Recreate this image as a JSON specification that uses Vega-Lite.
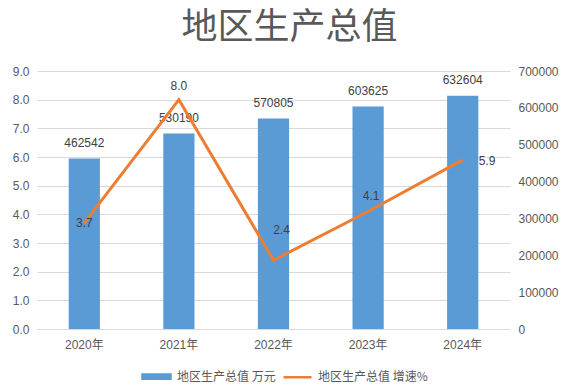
{
  "$schema": "https://vega.github.io/schema/vega-lite/v6.json",
  "width": 473,
  "height": 258,
  "autosize": "none",
  "padding": {"left": 37, "top": 71, "right": 57, "bottom": 59},
  "background": "white",
  "config": {
    "view": {"stroke": null},
    "font": "Liberation Sans, Noto Sans CJK SC",
    "text": {"font": "Liberation Sans, Noto Sans CJK SC", "fontSize": 12, "color": "#404040"}
  },
  "title": {
    "text": "地区生产总值",
    "font": "Noto Sans CJK SC",
    "fontSize": 36,
    "fontWeight": "normal",
    "color": "#595959",
    "offset": 18,
    "dx": 16
  },
  "data": {
    "values": [
      {"year": "2020年", "gdp": 462542, "rate": 3.7},
      {"year": "2021年", "gdp": 530190, "rate": 8.0},
      {"year": "2022年", "gdp": 570805, "rate": 2.4},
      {"year": "2023年", "gdp": 603625, "rate": 4.1},
      {"year": "2024年", "gdp": 632604, "rate": 5.9}
    ]
  },
  "encoding": {
    "x": {
      "field": "year",
      "type": "nominal",
      "sort": null,
      "scale": {"paddingInner": 0.67, "paddingOuter": 0.335},
      "axis": {
        "title": null,
        "labelAngle": 0,
        "ticks": false,
        "domain": false,
        "labelFontSize": 12,
        "labelColor": "#595959",
        "labelPadding": 10,
        "labelFont": "Liberation Sans, Noto Sans CJK SC"
      }
    }
  },
  "layer": [
    {
      "encoding": {
        "y": {
          "field": "gdp",
          "type": "quantitative",
          "scale": {"domain": [0, 700000], "nice": false},
          "axis": {
            "orient": "right",
            "title": null,
            "grid": false,
            "domain": false,
            "ticks": false,
            "values": [0, 100000, 200000, 300000, 400000, 500000, 600000, 700000],
            "format": "d",
            "labelFontSize": 12,
            "labelColor": "#595959",
            "labelPadding": 8
          }
        }
      },
      "layer": [
        {
          "mark": {"type": "bar", "color": "#5B9BD5"},
          "encoding": {
            "color": {
              "datum": "地区生产总值 万元",
              "scale": {"domain": ["地区生产总值 万元", "地区生产总值 增速%"], "range": ["#5B9BD5", "#ED7D31"]},
              "legend": {
                "title": null,
                "orient": "none",
                "direction": "horizontal",
                "legendX": 104,
                "legendY": 290,
                "symbolSize": 784,
                "labelFontSize": 12,
                "labelColor": "#595959",
                "labelFont": "Noto Sans CJK SC",
                "columnPadding": 2,
                "labelOffset": 5,
                "encode": {
                  "symbols": {
                    "update": {
                      "shape": {"signal": "datum.value === '地区生产总值 万元' ? 'M-1,-0.16H1V0.16H-1Z' : 'M-1,0H1'"},
                      "fill": {"signal": "datum.value === '地区生产总值 万元' ? '#5B9BD5' : 'transparent'"},
                      "stroke": {"signal": "datum.value === '地区生产总值 万元' ? 'transparent' : '#ED7D31'"},
                      "strokeWidth": {"value": 2.5},
                      "opacity": {"value": 1}
                    }
                  }
                }
              }
            }
          }
        },
        {
          "mark": {"type": "text", "dy": -16, "baseline": "middle"},
          "encoding": {"text": {"field": "gdp", "type": "quantitative", "format": "d"}}
        }
      ]
    },
    {
      "encoding": {
        "y": {
          "field": "rate",
          "type": "quantitative",
          "scale": {"domain": [0, 9], "nice": false},
          "axis": {
            "orient": "left",
            "title": null,
            "grid": true,
            "gridColor": "#D9D9D9",
            "domain": false,
            "ticks": false,
            "values": [0, 1, 2, 3, 4, 5, 6, 7, 8, 9],
            "format": ".1f",
            "labelFontSize": 12,
            "labelColor": "#595959",
            "labelPadding": 8
          }
        }
      },
      "layer": [
        {
          "mark": {"type": "line", "strokeWidth": 3, "color": "#ED7D31"},
          "encoding": {"color": {"datum": "地区生产总值 增速%"}}
        },
        {
          "transform": [{"filter": "datum.year === '2020年'"}],
          "mark": {"type": "text", "dy": 0, "baseline": "middle"},
          "encoding": {"text": {"field": "rate", "type": "quantitative", "format": ".1f"}}
        },
        {
          "transform": [{"filter": "datum.year === '2021年'"}],
          "mark": {"type": "text", "dy": -14, "baseline": "middle"},
          "encoding": {"text": {"field": "rate", "type": "quantitative", "format": ".1f"}}
        },
        {
          "transform": [{"filter": "datum.year === '2022年'"}],
          "mark": {"type": "text", "dx": 8, "dy": -30, "baseline": "middle"},
          "encoding": {"text": {"field": "rate", "type": "quantitative", "format": ".1f"}}
        },
        {
          "transform": [{"filter": "datum.year === '2023年'"}],
          "mark": {"type": "text", "dx": 3, "dy": -15, "baseline": "middle"},
          "encoding": {"text": {"field": "rate", "type": "quantitative", "format": ".1f"}}
        },
        {
          "transform": [{"filter": "datum.year === '2024年'"}],
          "mark": {"type": "text", "dx": 16, "dy": 1, "baseline": "middle", "align": "left"},
          "encoding": {"text": {"field": "rate", "type": "quantitative", "format": ".1f"}}
        }
      ]
    }
  ],
  "resolve": {"scale": {"y": "independent"}}
}
